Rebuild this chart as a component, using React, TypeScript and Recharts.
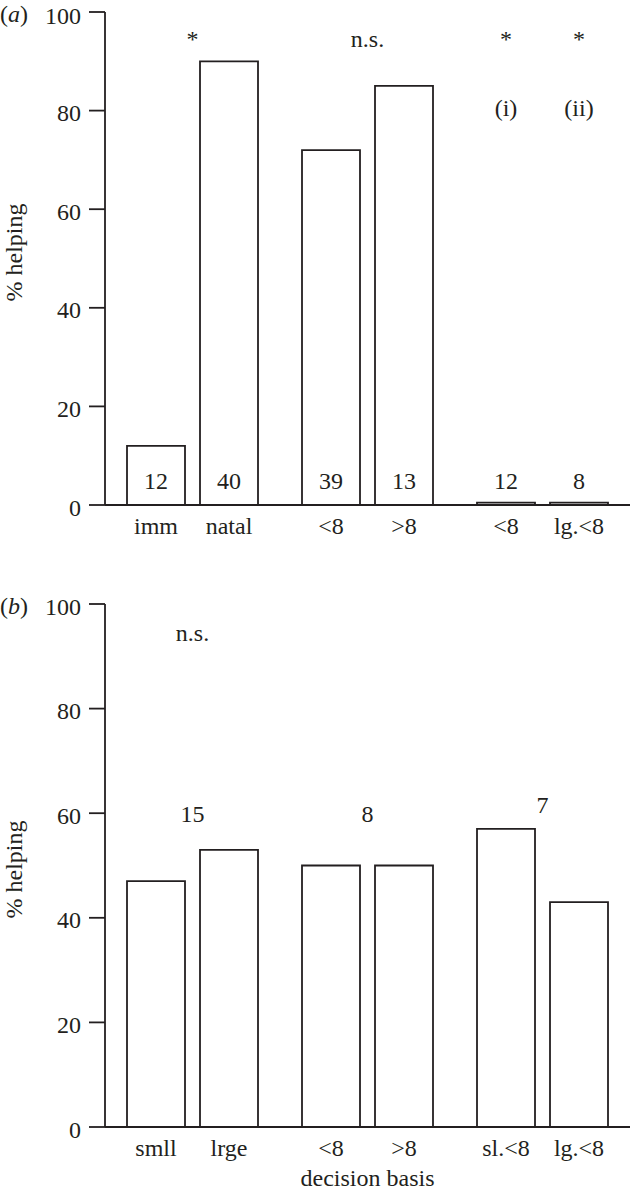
import React from 'react';
import { BarChart, Bar, XAxis, YAxis, LabelList, ReferenceDot } from 'recharts';

const INK = '#231f20';
const FONT = '"Liberation Serif", "Times New Roman", serif';
const FS = 24;
const BAR_W = 58;
const BAR_GAP = 15;
const HALF_STEP = (BAR_W + BAR_GAP) / 2;
const yTicks = [0, 20, 40, 60, 80, 100];

// panel (a)
const groupsA = ['residence', 'age', 'size'];
const leftTicksA = ['imm', '<8', '<8'];
const rightTicksA = ['natal', '>8', 'lg.<8'];
const leftPctA = [12, 72, 0.5];
const rightPctA = [90, 85, 0.5];
const leftNA = [12, 39, 12];
const rightNA = [40, 13, 8];
// side: -1 over left bar, 0 over the pair, 1 over right bar
const notesA = [
  { group: 'residence', side: 0, at: 93, text: '*' },
  { group: 'age', side: 0, at: 93, text: 'n.s.' },
  { group: 'size', side: -1, at: 93, text: '*' },
  { group: 'size', side: 1, at: 93, text: '*' },
  { group: 'size', side: -1, at: 79, text: '(i)' },
  { group: 'size', side: 1, at: 79, text: '(ii)' },
];

// panel (b)
const groupsB = ['size', 'age', 'size<8'];
const leftTicksB = ['smll', '<8', 'sl.<8'];
const rightTicksB = ['lrge', '>8', 'lg.<8'];
const leftPctB = [47, 50, 57];
const rightPctB = [53, 50, 43];
const notesB = [
  { group: 'size', side: 0, at: 93, text: 'n.s.' },
  { group: 'size', side: 0, at: 58.3, text: '15' },
  { group: 'age', side: 0, at: 58.3, text: '8' },
  { group: 'size<8', side: 0, at: 60, text: '7' },
];

const dataA = groupsA.map((g, i) => ({
  group: g, left: leftPctA[i], right: rightPctA[i], leftN: leftNA[i], rightN: rightNA[i],
}));
const dataB = groupsB.map((g, i) => ({ group: g, left: leftPctB[i], right: rightPctB[i] }));

const txt = { fill: INK, fontFamily: FONT, fontSize: FS };

const countLabel = (p: any) => {
  const vb = p.viewBox ?? p;
  return (
    <text x={vb.x + vb.width / 2} y={vb.y + vb.height - 16} textAnchor="middle" {...txt}>
      {p.value}
    </text>
  );
};

const noteLabel = (side: number, text: string) => (p: any) => {
  const vb = p.viewBox ?? p;
  return (
    <text x={vb.x + vb.width / 2 + side * HALF_STEP} y={vb.y + vb.height / 2} textAnchor="middle" {...txt}>
      {text}
    </text>
  );
};

interface PanelProps {
  tag: string;
  data: any[];
  leftTicks: string[];
  rightTicks: string[];
  notes: { group: string; side: number; at: number; text: string }[];
  counts: boolean;
  height: number;
  top: number;
  bottom: number;
  xHeight: number;
  titleShift: number;
  xTitle?: string;
}

const Panel = ({ tag, data, leftTicks, rightTicks, notes, counts, height, top, bottom, xHeight, titleShift, xTitle }: PanelProps) => {
  const groupTick = (p: any) => {
    const i = p.index ?? p.payload?.index ?? 0;
    return (
      <g>
        <text x={p.x - HALF_STEP} y={p.y + 29} textAnchor="middle" {...txt}>{leftTicks[i]}</text>
        <text x={p.x + HALF_STEP} y={p.y + 29} textAnchor="middle" {...txt}>{rightTicks[i]}</text>
      </g>
    );
  };

  const yTitle = (p: any) => {
    const vb = p.viewBox;
    const cy = vb.y + vb.height / 2 + titleShift;
    return (
      <g>
        <text x={22} y={cy} transform={`rotate(-90, 22, ${cy})`} textAnchor="middle" {...txt}>% helping</text>
        <text x={0} y={vb.y + 10} {...txt}>
          (<tspan fontStyle="italic">{tag}</tspan>)
        </text>
      </g>
    );
  };

  const xTitleFn = (p: any) => {
    const vb = p.viewBox;
    return (
      <text x={vb.x + vb.width / 2} y={vb.y + vb.height - 7} textAnchor="middle" {...txt}>{xTitle}</text>
    );
  };

  return (
    <BarChart
      width={630}
      height={height}
      data={data}
      margin={{ top, right: 0, bottom, left: 0 }}
      barGap={BAR_GAP}
    >
      <XAxis
        dataKey="group"
        height={xHeight}
        interval={0}
        tickLine={false}
        tickSize={0}
        tickMargin={0}
        axisLine={{ stroke: INK, strokeWidth: 1.8 }}
        tick={groupTick}
        label={xTitle ? xTitleFn : undefined}
      />
      <YAxis
        domain={[0, 100]}
        ticks={yTicks}
        width={105}
        tickSize={16}
        tickMargin={8}
        axisLine={{ stroke: INK, strokeWidth: 1.8 }}
        tickLine={{ stroke: INK, strokeWidth: 1.8 }}
        tick={{ ...txt, dy: 2 }}
        label={yTitle}
      />
      <Bar dataKey="left" barSize={BAR_W} fill="#fff" stroke={INK} strokeWidth={1.8} isAnimationActive={false}>
        {counts && <LabelList dataKey="leftN" content={countLabel} />}
      </Bar>
      <Bar dataKey="right" barSize={BAR_W} fill="#fff" stroke={INK} strokeWidth={1.8} isAnimationActive={false}>
        {counts && <LabelList dataKey="rightN" content={countLabel} />}
      </Bar>
      {notes.map((n, i) => (
        <ReferenceDot
          key={i}
          x={n.group}
          y={n.at}
          r={0}
          fill="none"
          stroke="none"
          label={noteLabel(n.side, n.text)}
        />
      ))}
    </BarChart>
  );
};

export default function App() {
  return (
    <div style={{ position: 'absolute', top: 0, left: 0, background: '#fff' }}>
      <Panel
        tag="a"
        data={dataA}
        leftTicks={leftTicksA}
        rightTicks={rightTicksA}
        notes={notesA}
        counts
        height={575}
        top={12}
        bottom={30}
        xHeight={40}
        titleShift={-6}
      />
      <Panel
        tag="b"
        data={dataB}
        leftTicks={leftTicksB}
        rightTicks={rightTicksB}
        notes={notesB}
        counts={false}
        height={618}
        top={29}
        bottom={0}
        xHeight={66}
        titleShift={4}
        xTitle="decision basis"
      />
    </div>
  );
}
